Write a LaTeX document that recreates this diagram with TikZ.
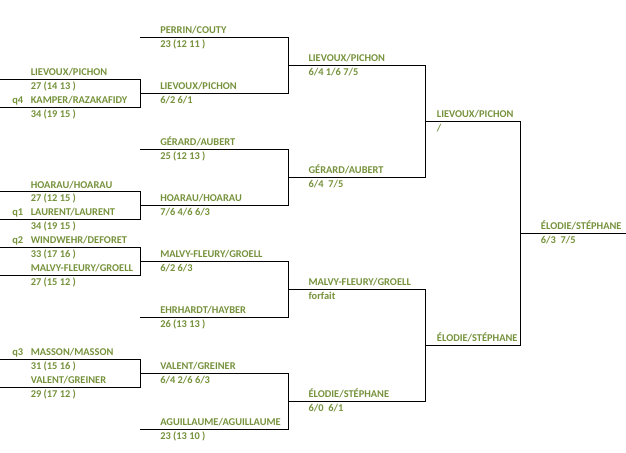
\documentclass[tikz,border=0pt]{standalone}
\usepackage{fontspec}
\setmainfont{Carlito}
\definecolor{teamgreen}{RGB}{118,146,60}
\tikzset{
  team/.style={anchor=base west, inner sep=0pt, text=teamgreen, font=\bfseries\fontsize{7.8}{9}\selectfont},
  bracket/.style={line width=0.75, color=black},
}

\begin{document}
\begin{tikzpicture}[x=0.75pt,y=0.75pt,yscale=-1,xscale=1]
\useasboundingbox (0,0) rectangle (626,453);

%Straight Lines: qualifying round
\draw [bracket] (0,79.3) -| (140,107.3) -- (0,107.3) ;
\draw [bracket] (0,191.7) -| (140,219.3) -- (0,219.3) ;
\draw [bracket] (0,247.3) -| (140,275.3) -- (0,275.3) ;
\draw [bracket] (0,359.3) -| (140,387.3) -- (0,387.3) ;
%Straight Lines: eighths
\draw [bracket] (140,37.3) -| (288,93.3) -- (140,93.3) ;
\draw [bracket] (140,149.3) -| (288,205.3) -- (140,205.3) ;
\draw [bracket] (140,261.3) -| (288,317.3) -- (140,317.3) ;
\draw [bracket] (140,373.3) -| (288,429.3) -- (140,429.3) ;
%Straight Lines: quarters
\draw [bracket] (288,65.3) -| (425.7,177.3) -- (288,177.3) ;
\draw [bracket] (288,289.3) -| (425.7,401.3) -- (288,401.3) ;
%Straight Lines: semis and final
\draw [bracket] (425.7,121.3) -| (520.7,345.3) -- (425.7,345.3) ;
\draw [bracket] (520.7,233.3) -- (626,233.3) ;

% Text Node: qualifying round
\node [team] (q1a) at (30.5,75.8) {LIEVOUX/PICHON};
\node [team] (q1as) at (30.5,89.3) {27 (14 13 )};
\node [team] (q1bq) at (12,103.8) {q4};
\node [team] (q1b) at (30.5,103.8) {KAMPER/RAZAKAFIDY};
\node [team] (q1bs) at (30.5,117.3) {34 (19 15 )};
\node [team] (q2a) at (30.5,188.2) {HOARAU/HOARAU};
\node [team] (q2as) at (30.5,201.7) {27 (12 15 )};
\node [team] (q2bq) at (12,215.8) {q1};
\node [team] (q2b) at (30.5,215.8) {LAURENT/LAURENT};
\node [team] (q2bs) at (30.5,229.3) {34 (19 15 )};
\node [team] (q3aq) at (12,243.8) {q2};
\node [team] (q3a) at (30.5,243.8) {WINDWEHR/DEFORET};
\node [team] (q3as) at (30.5,257.3) {33 (17 16 )};
\node [team] (q3b) at (30.5,271.8) {MALVY-FLEURY/GROELL};
\node [team] (q3bs) at (30.5,285.3) {27 (15 12 )};
\node [team] (q4aq) at (12,355.8) {q3};
\node [team] (q4a) at (30.5,355.8) {MASSON/MASSON};
\node [team] (q4as) at (30.5,369.3) {31 (15 16 )};
\node [team] (q4b) at (30.5,383.8) {VALENT/GREINER};
\node [team] (q4bs) at (30.5,397.3) {29 (17 12 )};

% Text Node: eighths
\node [team] (e1) at (160,33.8) {PERRIN/COUTY};
\node [team] (e1s) at (160,47.3) {23 (12 11 )};
\node [team] (e2) at (160,89.8) {LIEVOUX/PICHON};
\node [team] (e2s) at (160,103.3) {6/2 6/1};
\node [team] (e3) at (160,145.8) {GÉRARD/AUBERT};
\node [team] (e3s) at (160,159.3) {25 (12 13 )};
\node [team] (e4) at (160,201.8) {HOARAU/HOARAU};
\node [team] (e4s) at (160,215.3) {7/6 4/6 6/3};
\node [team] (e5) at (160,257.8) {MALVY-FLEURY/GROELL};
\node [team] (e5s) at (160,271.3) {6/2 6/3};
\node [team] (e6) at (160,313.8) {EHRHARDT/HAYBER};
\node [team] (e6s) at (160,327.3) {26 (13 13 )};
\node [team] (e7) at (160,369.8) {VALENT/GREINER};
\node [team] (e7s) at (160,383.3) {6/4 2/6 6/3};
\node [team] (e8) at (160,425.8) {AGUILLAUME/AGUILLAUME};
\node [team] (e8s) at (160,439.3) {23 (13 10 )};

% Text Node: quarters
\node [team] (qf1) at (308.3,61.8) {LIEVOUX/PICHON};
\node [team] (qf1s) at (308.3,75.3) {6/4 1/6 7/5};
\node [team] (qf2) at (308.3,173.8) {GÉRARD/AUBERT};
\node [team] (qf2s) at (308.3,187.3) {6/4\ \ 7/5};
\node [team] (qf3) at (308.3,285.8) {MALVY-FLEURY/GROELL};
\node [team] (qf3s) at (308.3,299.3) {forfait};
\node [team] (qf4) at (308.3,397.8) {ÉLODIE/STÉPHANE};
\node [team] (qf4s) at (308.3,411.3) {6/0\ \ 6/1};

% Text Node: semis and final
\node [team] (sf1) at (436.7,117.8) {LIEVOUX/PICHON};
\node [team] (sf1s) at (436.7,131.3) {/};
\node [team] (sf2) at (436.7,341.8) {ÉLODIE/STÉPHANE};
\node [team] (fin) at (540.7,229.8) {ÉLODIE/STÉPHANE};
\node [team] (fins) at (540.7,243.3) {6/3\ \ 7/5};

\end{tikzpicture}
\end{document}
